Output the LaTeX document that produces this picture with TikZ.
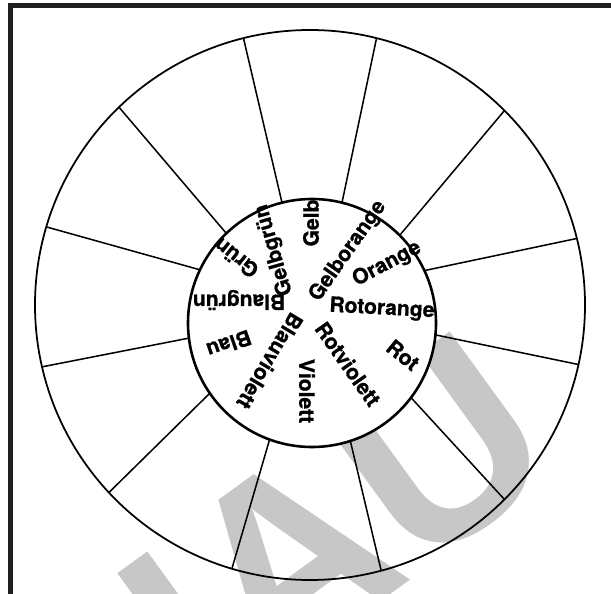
\documentclass[tikz,border=0pt]{standalone}
\usepackage{fontspec}
\setsansfont{TeX Gyre Heros}[BoldFeatures={FakeBold=0.8}]
\newfontfamily\markfont{Liberation Sans}
\usetikzlibrary{calc}

\begin{document}
\begin{tikzpicture}[x=0.03cm,y=-0.03cm,
  lbl/.style={font=\sffamily\bfseries\fontsize{18}{18}\selectfont,inner sep=0pt},
  rim/.style={line width=1.5pt},
  hub/.style={line width=2.2pt},
  spoke/.style={line width=1.3pt}]
  \useasboundingbox (0,0) rectangle (611,594);
  \clip (0,0) rectangle (611,594);
  % watermark
  \node[font=\markfont\bfseries\fontsize{220}{220}\selectfont,text=black!22,
    rotate=36,anchor=base east,inner sep=0pt] (mark) at (567,466) {VORSCHAU};
  % frame
  \draw[line width=4.6pt,black!88] (10.5,5.5) rectangle (660,660);
  % circles
  \coordinate (O) at (310,305);
  \coordinate (C) at (312,323);
  \draw[rim] (O) circle (275);
  \draw[hub,fill=white] (C) circle (124);
  % spokes (angles measured with y downwards)
  \foreach \ai/\ao [count=\k] in {-104/-104,-76/-76,-45/-45,-25/-14,5.5/12.5,37/45,
      72/75,110/106.5,145.5/137,173/167,-154.6/-163.5,-133.7/-134}{
    \coordinate (in\k) at ($(C)+(\ai:124)$);
    \coordinate (out\k) at ($(O)+(\ao:275)$);
    \draw[spoke] (in\k) -- (out\k);
  }
  % colour names
  \node[lbl,rotate=90] (gelb) at (311,223) {Gelb};
  \node[lbl,rotate=55] (gelborange) at (348,251) {Gelborange};
  \node[lbl,rotate=28] (orange) at (387,264) {Orange};
  \node[lbl,rotate=-3] (rotorange) at (382,309) {Rotorange};
  \node[lbl,rotate=-39] (rot) at (403,355) {Rot};
  \node[lbl,rotate=-55] (rotviolett) at (348,364) {Rotviolett};
  \node[lbl,rotate=-90] (violett) at (307,391) {Violett};
  \node[lbl,rotate=-121] (blauviolett) at (270,361) {Blauviolett};
  \node[lbl,rotate=-161] (blau) at (229,344) {Blau};
  \node[lbl,rotate=180] (blaugruen) at (239,300) {Blaugrün};
  \node[lbl,rotate=142] (gruen) at (236,258) {Grün};
  \node[lbl,rotate=106] (gelbgruen) at (274,250) {Gelbgrün};
\end{tikzpicture}
\end{document}
